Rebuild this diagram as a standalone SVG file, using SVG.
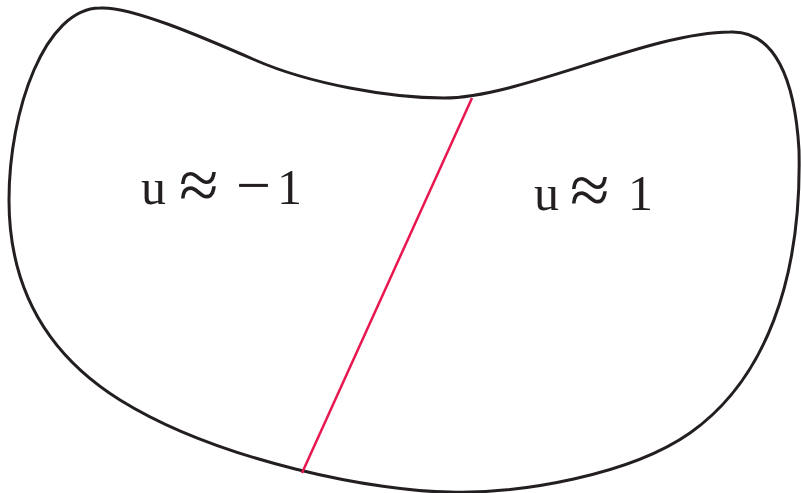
<svg xmlns="http://www.w3.org/2000/svg" width="801" height="493" viewBox="0 0 801 493">
<style>
.outline{fill:none;stroke:#231f20;stroke-width:3}
.cut{stroke:#e8174f;stroke-width:2.5}
text{font-family:'Liberation Serif','Times New Roman',serif;font-size:50px;fill:#231f20}
.apx{font-size:72px}
.mns{font-size:62px}
</style>
<rect width="801" height="493" fill="#fff"/>
<g id="domain">
<path class="outline" d="M100,8 C130,6 200,36 255,60 C310,84 390,98 444,98 C520,98 650,32 730,32 C775,30 795,80 799,150 C802,280 765,380 690,433 C630,475 520,494 450,492 C380,492 220,462 120,400 C40,350 9,280 9,200 C9,110 45,8 100,8 Z"/>
</g>
<g id="connectors">
<line class="cut" x1="472" y1="98" x2="302" y2="473"/>
</g>
<g id="label-left">
<text x="141" y="204">u</text>
<text class="apx" x="179" y="209">≈</text>
<text class="mns" x="236" y="206">−</text>
<text x="277" y="204">1</text>
</g>
<g id="label-right">
<text x="534" y="210">u</text>
<text class="apx" x="570" y="214">≈</text>
<text x="628" y="210">1</text>
</g>
</svg>
